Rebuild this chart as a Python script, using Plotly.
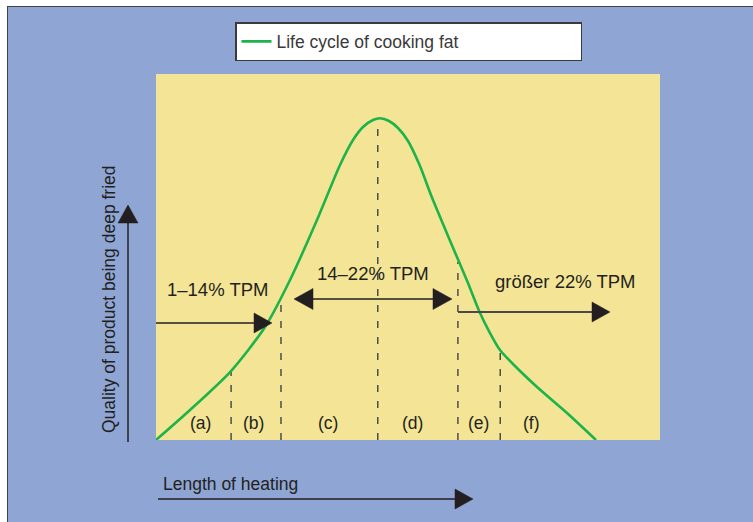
import plotly.graph_objects as go

# ---------------- data ----------------
heating = [0, 6.75, 14.88, 21.63, 26.59, 31.94, 36.51, 39.09, 41.07, 43.06, 44.44,
           46.23, 48.02, 50.00, 52.38, 54.56, 58.53, 61.90, 64.29, 66.27, 68.25,
           70.63, 75.60, 81.55, 87.30]
quality = [0, 8.20, 18.85, 30.87, 43.72, 60.11, 75.14, 81.97, 85.52, 87.43, 87.90,
           87.16, 85.25, 81.69, 74.86, 66.94, 53.83, 42.90, 34.70, 29.23, 24.59,
           21.04, 14.48, 7.38, 0]

phase_bounds = [14.9, 24.8, 44.0, 59.9, 68.3]
phase_tops = [18.9, 37.4, 85.2, 48.6, 24.0]

phase_labels = ["(a)", "(b)", "(c)", "(d)", "(e)", "(f)"]
phase_label_x = [8.9, 19.4, 34.1, 50.8, 63.9, 74.6]

tpm_labels = ["1–14% TPM", "14–22% TPM", "größer 22% TPM"]

series_name = "Life cycle of cooking fat"
y_title = "Quality of product being deep fried"
x_title = "Length of heating"

# ---------------- style ----------------
W, H = 753, 522
BLUE = "#8fa6d4"
YELLOW = "#f3e595"
GREEN = "#1db34a"
DARK = "#231f20"
FONT = "Liberation Sans, Arial, sans-serif"
FS = 17.5

def px(x):
    return x / W

def py(y):
    return 1 - y / H

fig = go.Figure()

# dashed phase boundaries
dx, dy = [], []
for b, t in zip(phase_bounds, phase_tops):
    dx += [b, b, None]
    dy += [0, t, None]
fig.add_trace(go.Scatter(x=dx, y=dy, mode="lines", showlegend=False, hoverinfo="skip",
                         line=dict(color="#4d4d4d", width=1.5, dash="7px,9px")))

# life-cycle curve
fig.add_trace(go.Scatter(x=heating, y=quality, mode="lines", name=series_name,
                         hoverinfo="skip",
                         line=dict(color=GREEN, width=2.6, shape="spline", smoothing=0.7)))

shapes = []
# white outer margin + border
shapes.append(dict(type="rect", xref="paper", yref="paper", x0=0, x1=1, y0=py(6), y1=1,
                   fillcolor="white", line_width=0, layer="above"))
shapes.append(dict(type="rect", xref="paper", yref="paper", x0=0, x1=px(7), y0=0, y1=1,
                   fillcolor="white", line_width=0, layer="above"))
shapes.append(dict(type="line", xref="paper", yref="paper", x0=px(7.5), x1=px(7.5),
                   y0=0, y1=py(6), line=dict(color="#444", width=1)))
shapes.append(dict(type="line", xref="paper", yref="paper", x0=px(7), x1=1,
                   y0=py(6.5), y1=py(6.5), line=dict(color="#444", width=1)))


def seg(x0, y0, x1, y1, color=DARK, w=1.5):
    shapes.append(dict(type="line", xref="paper", yref="paper",
                       x0=px(x0), y0=py(y0), x1=px(x1), y1=py(y1),
                       line=dict(color=color, width=w)))


def tri(pts, color=DARK):
    path = "M " + " L ".join(f"{px(a):.5f},{py(b):.5f}" for a, b in pts) + " Z"
    shapes.append(dict(type="path", xref="paper", yref="paper", path=path,
                       fillcolor=color, line=dict(color=color, width=0.5)))

# axis arrows
seg(128, 442, 128, 215)
tri([(128, 205), (118, 223), (138, 223)])
seg(158, 499, 462, 499)
tri([(473, 499), (455, 489), (455, 509)])

# TPM arrows
seg(156, 323, 258, 323)
tri([(272, 323), (254, 313), (254, 333)])
seg(305, 299, 440, 299)
tri([(294, 299), (313, 288.5), (313, 309.5)])
tri([(452, 299), (433, 288.5), (433, 309.5)])
seg(458, 312, 596, 312, color="#4a4a4a", w=2)
tri([(610, 312), (592, 302), (592, 322)])

annotations = []
def txt(s, x, y, size=FS, angle=0):
    annotations.append(dict(text=s, xref="paper", yref="paper", x=px(x), y=py(y),
                            xanchor="center", yanchor="middle", showarrow=False,
                            textangle=angle, font=dict(family=FONT, size=size, color=DARK)))

txt(tpm_labels[0], 217.5, 289, size=18.5)
txt(tpm_labels[1], 373, 273, size=18.5)
txt(tpm_labels[2], 565, 281, size=18.5)
txt(y_title, 109, 299, angle=-90)
annotations.append(dict(text=x_title, xref="paper", yref="paper", x=px(161), y=py(484),
                        xanchor="left", yanchor="middle", showarrow=False,
                        font=dict(family=FONT, size=FS, color=DARK)))

for lab, lx in zip(phase_labels, phase_label_x):
    annotations.append(dict(text=lab, x=lx, y=4.6, xref="x", yref="y", showarrow=False,
                            xanchor="center", yanchor="middle",
                            font=dict(family=FONT, size=FS, color=DARK)))

fig.update_layout(
    width=W, height=H, margin=dict(l=0, r=0, t=0, b=0),
    paper_bgcolor=BLUE, plot_bgcolor=YELLOW,
    xaxis=dict(domain=[px(156), px(660)], range=[0, 100], visible=False, fixedrange=True),
    yaxis=dict(domain=[py(440), py(74)], range=[0, 100], visible=False, fixedrange=True),
    shapes=shapes, annotations=annotations,
    showlegend=True,
    legend=dict(x=px(235), y=py(22), xanchor="left", yanchor="top", orientation="h",
                entrywidth=299, bgcolor="white", bordercolor="#3a3a3a", borderwidth=1.5,
                font=dict(family=FONT, size=FS, color="#3a3a3a")),
)

fig.write_html("out.html", config={"displayModeBar": False},
               post_script="document.body.style.margin='0';document.body.style.overflow='hidden';")
